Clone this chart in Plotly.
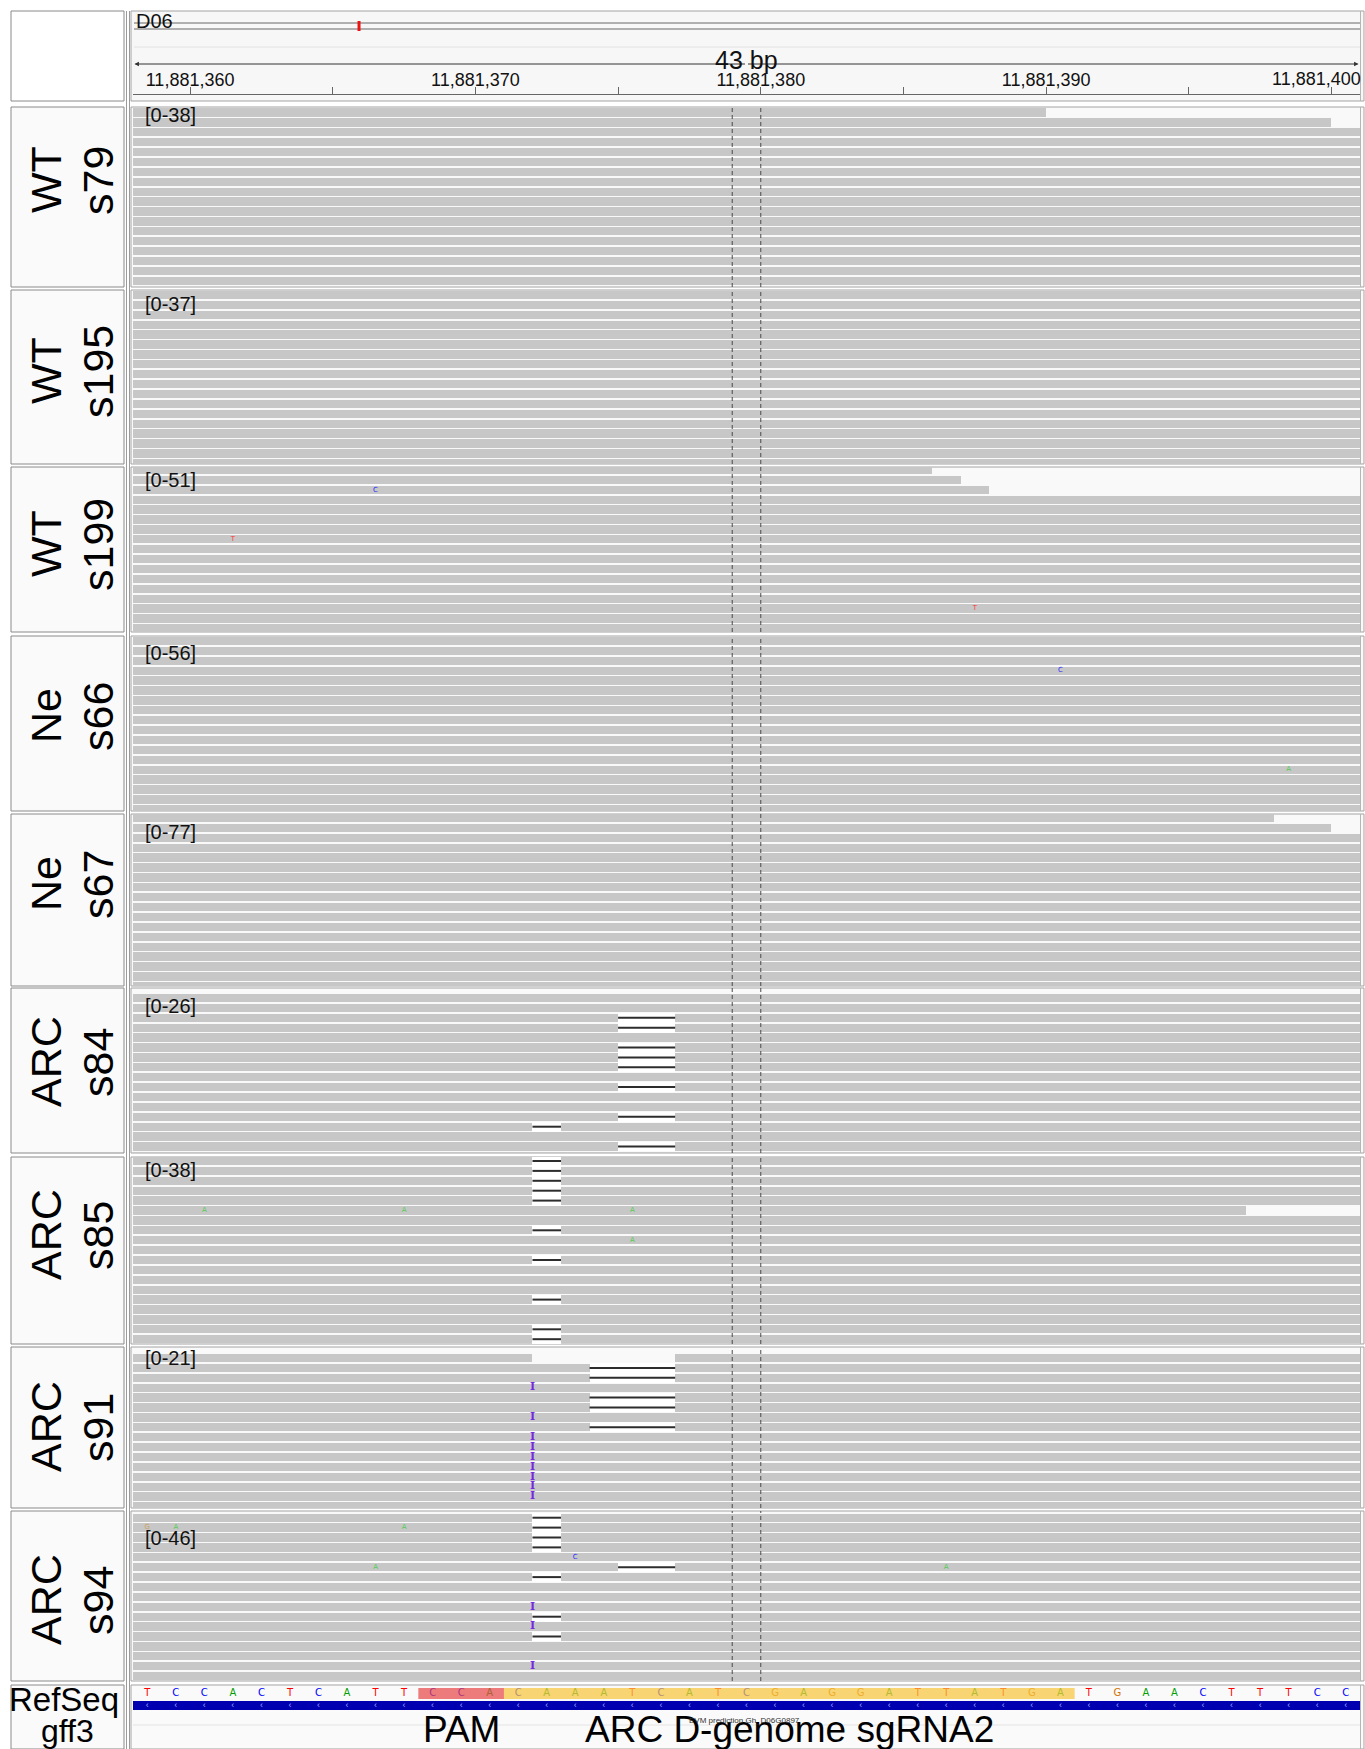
import math
import plotly.graph_objects as go

# ---------------------------------------------------------------------------
# Locus and reference
# ---------------------------------------------------------------------------
CHROM = "D06"
CHROM_LENGTH = 64_500_000
VIEW_START = 11881358          # left edge of the window (base boundary)
VIEW_END = 11881401            # right edge of the window
CENTER_BASE = 11881379         # base outlined by the dashed centre guides
RULER_TICKS = list(range(11881360, 11881401, 5))

REF_SEQ = "TCCACTCATTCCACAAATCATCGAGGATTATGATGAACTTTCC"

# ---------------------------------------------------------------------------
# Alignment panels
# ---------------------------------------------------------------------------
SAMPLE_GROUP = ["WT", "WT", "WT", "Ne", "Ne", "ARC", "ARC", "ARC", "ARC"]
SAMPLE_ID = ["s79", "s195", "s199", "s66", "s67", "s84", "s85", "s91", "s94"]
DATA_RANGE = ["[0-38]", "[0-37]", "[0-51]", "[0-56]", "[0-77]",
              "[0-26]", "[0-38]", "[0-21]", "[0-46]"]

# stretches of a row not covered by any read (panel, row, start, end)
GAP_PANEL = [0, 0, 2, 2, 2, 4, 4, 6, 7]
GAP_ROW = [0, 1, 0, 1, 2, 0, 1, 5, 0]
GAP_START = [11881390, 11881400, 11881386, 11881387, 11881388,
             11881398, 11881400, 11881397, 11881372]
GAP_END = [11881403, 11881403, 11881403, 11881403, 11881403,
           11881403, 11881403, 11881403, 11881377]

# deletions (panel, row, start, end)
DEL_PANEL = [5, 5, 5, 5, 5, 5, 5, 5, 5,
             6, 6, 6, 6, 6, 6, 6, 6, 6, 6,
             7, 7, 7, 7, 7,
             8, 8, 8, 8, 8, 8, 8, 8]
DEL_ROW = [2, 3, 5, 6, 7, 9, 12, 15, 13,
           0, 1, 2, 3, 4, 7, 10, 14, 17, 18,
           1, 2, 4, 5, 7,
           0, 1, 2, 3, 6, 10, 12, 5]
DEL_START = [11881375] * 8 + [11881372] + [11881372] * 10 + [11881374] * 5 \
    + [11881372] * 7 + [11881375]
DEL_END = [11881377] * 8 + [11881373] + [11881373] * 10 + [11881377] * 5 \
    + [11881373] * 7 + [11881377]

# insertions (panel, row, position of the boundary)
INS_PANEL = [7, 7, 7, 7, 7, 7, 7, 7, 7, 8, 8, 8]
INS_ROW = [3, 6, 8, 9, 10, 11, 12, 13, 14, 9, 11, 15]
INS_POS = [11881372] * 12

# mismatched bases (panel, row, base position, base)
MM_PANEL = [2, 2, 2, 3, 3, 6, 6, 6, 6, 8, 8, 8, 8, 8, 8]
MM_ROW = [2, 7, 14, 3, 13, 5, 5, 5, 8, 1, 1, 1, 4, 5, 5]
MM_POS = [11881366, 11881361, 11881387, 11881390, 11881398,
          11881360, 11881367, 11881375, 11881375,
          11881358, 11881359, 11881367, 11881373, 11881366, 11881386]
MM_BASE = ["C", "T", "T", "C", "A", "A", "A", "A", "A",
           "G", "A", "A", "C", "A", "A"]

# annotation features
FEATURE_NAME = ["PAM", "ARC D-genome sgRNA2"]
FEATURE_START = [11881368, 11881371]
FEATURE_END = [11881371, 11881391]
FEATURE_FILL = ["rgba(233,74,74,0.72)", "rgba(246,197,62,0.72)"]
GENE_NAME = "EVM prediction Gh_D06G0897"

# ---------------------------------------------------------------------------
# Page geometry (pixels)
# ---------------------------------------------------------------------------
W, H = 1365, 1749
LABEL_X0, LABEL_X1 = 11, 124
DATA_X0, DATA_X1 = 133, 1360
FRAME_X0, FRAME_X1 = 131, 1364
PANEL_TOP = [107, 290, 467, 636, 814, 988, 1157, 1347, 1511]
PANEL_BOTTOM = [287, 464, 632, 811, 986, 1153, 1344, 1508, 1681]
ROW0_OFFSET = [5.5, 5, 3, 5, 4, 10, 4, 11, 6.7]
RANGE_OFFSET = [8, 14, 13, 17, 18, 18, 13, 11, 27]
NAME_CENTER = [180, 371, 544, 716, 884, 1062, 1235, 1427, 1600]
ROW_PITCH = 9.9
READ_H = 8.3
TRACK_TOP, TRACK_BOTTOM = 1685, 1749
SEQ_BAND = (1688, 1699)
GENE_BAND = (1701, 1710)

FONT = "Liberation Sans, Arial, sans-serif"
READ_COLOR = "#c7c7c7"
BASE_COLOR = {"A": "#00a000", "C": "#0000ff", "G": "#d17105", "T": "#ff0000"}
MM_COLOR = {"A": "#55cc55", "C": "#2a2aff", "G": "#c9a060", "T": "#ff3535"}


def py(px):
    """page pixel row -> paper y"""
    return 1 - px / H


def pxx(px):
    return px / W


fig = go.Figure()
shapes = []
annotations = []
axes = {}

# ---------------------------------------------------------------------------
# Frames: header, panels, sequence/feature track
# ---------------------------------------------------------------------------
def frame(top, bottom, data_fill, label_fill="#fafafa"):
    shapes.append(dict(type="rect", xref="paper", yref="paper",
                       x0=pxx(LABEL_X0), x1=pxx(LABEL_X1), y0=py(bottom), y1=py(top),
                       fillcolor=label_fill, line=dict(color="#8a8a8a", width=1),
                       layer="below"))
    shapes.append(dict(type="rect", xref="paper", yref="paper",
                       x0=pxx(FRAME_X0), x1=pxx(FRAME_X1), y0=py(bottom), y1=py(top),
                       fillcolor=data_fill, line=dict(color="#a3a3a3", width=1),
                       layer="below"))
    shapes.append(dict(type="line", xref="paper", yref="paper",
                       x0=pxx(DATA_X1 + 0.5), x1=pxx(DATA_X1 + 0.5),
                       y0=py(bottom), y1=py(top),
                       line=dict(color="#b5b5b5", width=1), layer="below"))


frame(11, 101, "#f7f7f7", "#ffffff")
for k in range(9):
    frame(PANEL_TOP[k], PANEL_BOTTOM[k], "#f9f9f9")
frame(TRACK_TOP, TRACK_BOTTOM, "#fafafa")

# double divider between name column and data
for xv in (126.5, 129.5):
    shapes.append(dict(type="line", xref="paper", yref="paper",
                       x0=pxx(xv), x1=pxx(xv), y0=py(H), y1=py(11),
                       line=dict(color="#9a9a9a", width=1), layer="below"))

# ---------------------------------------------------------------------------
# Header: chromosome ideogram, span arrow and ruler
# ---------------------------------------------------------------------------
for yv, col in ((23, "#666666"), (29, "#666666"), (47, "#e2e2e2")):
    shapes.append(dict(type="line", xref="paper", yref="paper",
                       x0=pxx(DATA_X0 + 1), x1=pxx(DATA_X1), y0=py(yv), y1=py(yv),
                       line=dict(color=col, width=1), layer="below"))
locus_frac = CENTER_BASE / CHROM_LENGTH
locus_px = DATA_X0 + locus_frac * (DATA_X1 - DATA_X0)
shapes.append(dict(type="rect", xref="paper", yref="paper",
                   x0=pxx(locus_px - 1.5), x1=pxx(locus_px + 1.5), y0=py(31), y1=py(21),
                   fillcolor="#ee1111", line=dict(width=0)))
annotations.append(dict(xref="paper", yref="paper", x=pxx(DATA_X0 + 1), y=py(21),
                        xanchor="left", yanchor="middle", showarrow=False,
                        text=CHROM, font=dict(family=FONT, size=20, color="#111")))

mid = (VIEW_START + VIEW_END) / 2
for head in (VIEW_START + 0.05, VIEW_END - 0.05):
    annotations.append(dict(xref="x", yref="paper", x=head, y=py(64),
                            axref="x", ayref="pixel", ax=mid, ay=0, text="",
                            showarrow=True, arrowhead=2, arrowsize=0.9,
                            arrowwidth=1, arrowcolor="#333"))
annotations.append(dict(xref="x", yref="paper", x=mid, y=py(60),
                        xanchor="center", yanchor="middle", showarrow=False,
                        text=f"{VIEW_END - VIEW_START} bp",
                        font=dict(family=FONT, size=25, color="#111")))

tick_text = [f"{t:,}" if (t % 10 == 0 and t != RULER_TICKS[-1]) else "" for t in RULER_TICKS]
annotations.append(dict(xref="paper", yref="paper", x=pxx(DATA_X1 + 3), y=py(79),
                        xanchor="right", yanchor="middle", showarrow=False,
                        text=f"{RULER_TICKS[-1]:,}",
                        font=dict(family=FONT, size=18, color="#111")))

# ---------------------------------------------------------------------------
# Alignment panels
# ---------------------------------------------------------------------------
def subtract(segs, cut):
    out = []
    cs, ce = cut
    for s, e in segs:
        if ce <= s or cs >= e:
            out.append((s, e))
            continue
        if cs > s:
            out.append((s, cs))
        if ce < e:
            out.append((ce, e))
    return out


for k in range(9):
    yid = f"y{k + 2}"
    top, bot = PANEL_TOP[k], PANEL_BOTTOM[k]
    off = ROW0_OFFSET[k]
    hpx = bot - top
    n_rows = int(math.ceil((hpx - off) / ROW_PITCH + 0.5))
    axes[f"yaxis{k + 2}"] = dict(domain=[py(bot), py(top)],
                                 range=[(hpx - off) / ROW_PITCH, -off / ROW_PITCH],
                                 visible=False, fixedrange=True, anchor="x")

    cuts = {}
    for p, r, s, e in zip(GAP_PANEL, GAP_ROW, GAP_START, GAP_END):
        if p == k:
            cuts.setdefault(r, []).append((s, e))
    dels = [(r, s, e) for p, r, s, e in zip(DEL_PANEL, DEL_ROW, DEL_START, DEL_END) if p == k]
    for r, s, e in dels:
        cuts.setdefault(r, []).append((s, e))

    ys, bases, lens = [], [], []
    for r in range(n_rows):
        segs = [(VIEW_START - 3, VIEW_END + 3)]
        for c in cuts.get(r, []):
            segs = subtract(segs, c)
        for s, e in segs:
            ys.append(r)
            bases.append(s)
            lens.append(e - s)

    if dels:
        fig.add_trace(go.Bar(orientation="h", y=[d[0] for d in dels],
                             base=[d[1] for d in dels], x=[d[2] - d[1] for d in dels],
                             width=1.0, marker=dict(color="#ffffff", line=dict(width=0)),
                             xaxis="x", yaxis=yid, hoverinfo="skip"))
    fig.add_trace(go.Bar(orientation="h", y=ys, base=bases, x=lens,
                         width=READ_H / ROW_PITCH,
                         marker=dict(color=READ_COLOR, line=dict(width=0)),
                         xaxis="x", yaxis=yid, hoverinfo="skip"))
    if dels:
        lx, ly = [], []
        for r, s, e in dels:
            lx += [s, e, None]
            ly += [r, r, None]
        fig.add_trace(go.Scatter(x=lx, y=ly, mode="lines",
                                 line=dict(color="#2d2d2d", width=2),
                                 xaxis="x", yaxis=yid, hoverinfo="skip"))

    ins = [(r, pos) for p, r, pos in zip(INS_PANEL, INS_ROW, INS_POS) if p == k]
    if ins:
        fig.add_trace(go.Scatter(x=[i[1] for i in ins], y=[i[0] for i in ins],
                                 mode="text", text=["<b>I</b>"] * len(ins),
                                 textposition="middle center",
                                 textfont=dict(family="DejaVu Serif", size=11,
                                               color="#7428e0"),
                                 xaxis="x", yaxis=yid, hoverinfo="skip"))

    mms = [(r, pos, b) for p, r, pos, b in zip(MM_PANEL, MM_ROW, MM_POS, MM_BASE) if p == k]
    if mms:
        fig.add_trace(go.Scatter(x=[m[1] + 0.5 for m in mms], y=[m[0] for m in mms],
                                 mode="text", text=[m[2] for m in mms],
                                 textposition="middle center",
                                 textfont=dict(family="DejaVu Sans", size=7,
                                               color=[MM_COLOR[m[2]] for m in mms]),
                                 xaxis="x", yaxis=yid, hoverinfo="skip"))

    # dashed guides around the centre base
    for xv in (CENTER_BASE, CENTER_BASE + 1):
        shapes.append(dict(type="line", xref="x", yref=f"{yid} domain",
                           x0=xv, x1=xv, y0=0, y1=1, layer="above",
                           line=dict(color="#4a4a4a", width=1, dash="4px,3px")))

    annotations.append(dict(xref="paper", yref="paper", x=pxx(143), y=py(top + RANGE_OFFSET[k]),
                            xanchor="left", yanchor="middle", showarrow=False,
                            text=DATA_RANGE[k], font=dict(family=FONT, size=20, color="#111")))
    annotations.append(dict(xref="paper", yref="paper", x=pxx(46), y=py(NAME_CENTER[k]),
                            xanchor="center", yanchor="middle", showarrow=False,
                            textangle=-90, text=SAMPLE_GROUP[k],
                            font=dict(family=FONT, size=43, color="#000")))
    annotations.append(dict(xref="paper", yref="paper", x=pxx(98), y=py(NAME_CENTER[k]),
                            xanchor="center", yanchor="middle", showarrow=False,
                            textangle=-90, text=SAMPLE_ID[k],
                            font=dict(family=FONT, size=43, color="#000")))

# ---------------------------------------------------------------------------
# Reference sequence and feature track
# ---------------------------------------------------------------------------
axes["yaxis11"] = dict(domain=[py(TRACK_BOTTOM), py(TRACK_TOP)],
                       range=[TRACK_BOTTOM, TRACK_TOP], visible=False,
                       fixedrange=True, anchor="x")
seq_x = [VIEW_START + i + 0.5 for i in range(len(REF_SEQ))]
seq_mid = sum(SEQ_BAND) / 2
fig.add_trace(go.Scatter(x=seq_x, y=[seq_mid] * len(REF_SEQ), mode="text",
                         text=list(REF_SEQ), textposition="middle center",
                         textfont=dict(family="DejaVu Sans", size=10,
                                       color=[BASE_COLOR[b] for b in REF_SEQ]),
                         xaxis="x", yaxis="y11", hoverinfo="skip"))
for s, e, fill in zip(FEATURE_START, FEATURE_END, FEATURE_FILL):
    shapes.append(dict(type="rect", xref="x", yref="y11", x0=s, x1=e,
                       y0=SEQ_BAND[0], y1=SEQ_BAND[1], fillcolor=fill,
                       line=dict(width=0), layer="above"))
shapes.append(dict(type="rect", xref="x", yref="y11", x0=VIEW_START - 1, x1=VIEW_END + 1,
                   y0=GENE_BAND[0], y1=GENE_BAND[1], fillcolor="#0000b0",
                   line=dict(width=0), layer="below"))
shapes.append(dict(type="line", xref="paper", yref="paper",
                   x0=pxx(DATA_X0), x1=pxx(DATA_X1), y0=py(1725), y1=py(1725),
                   line=dict(color="#e4e4e4", width=1), layer="below"))
gene_mid = sum(GENE_BAND) / 2
fig.add_trace(go.Scatter(x=seq_x, y=[gene_mid] * len(seq_x), mode="text",
                         text=["\u2039"] * len(seq_x), textposition="middle center",
                         textfont=dict(family=FONT, size=9, color="#9fa8ff"),
                         xaxis="x", yaxis="y11", hoverinfo="skip"))
for name, s, e in zip(FEATURE_NAME, FEATURE_START, FEATURE_END):
    annotations.append(dict(xref="x", yref="y11", x=(s + e) / 2, y=1729,
                            xanchor="center", yanchor="middle", showarrow=False,
                            text=name, font=dict(family=FONT, size=37, color="#000")))
annotations.append(dict(xref="paper", yref="y11", x=pxx(745), y=1720,
                        xanchor="center", yanchor="middle", showarrow=False,
                        text=GENE_NAME, font=dict(family=FONT, size=8, color="#333")))
annotations.append(dict(xref="paper", yref="paper", x=pxx(64), y=py(1699),
                        xanchor="center", yanchor="middle", showarrow=False,
                        text="RefSeq", font=dict(family=FONT, size=33, color="#000")))
annotations.append(dict(xref="paper", yref="paper", x=pxx(67), y=py(1731),
                        xanchor="center", yanchor="middle", showarrow=False,
                        text="gff3", font=dict(family=FONT, size=32, color="#000")))

# ---------------------------------------------------------------------------
# Layout
# ---------------------------------------------------------------------------
fig.update_layout(
    width=W, height=H,
    margin=dict(l=0, r=0, t=0, b=0),
    paper_bgcolor="#ffffff",
    plot_bgcolor="rgba(0,0,0,0)",
    showlegend=False,
    barmode="overlay",
    bargap=0,
    shapes=shapes,
    annotations=annotations,
    xaxis=dict(domain=[pxx(DATA_X0), pxx(DATA_X1)], range=[VIEW_START, VIEW_END],
               anchor="free", position=py(94), side="top",
               showline=True, linecolor="#666", linewidth=1,
               ticks="outside", ticklen=7, tickcolor="#666", tickwidth=1,
               tickvals=RULER_TICKS, ticktext=tick_text, ticklabelstandoff=-6,
               tickfont=dict(family=FONT, size=18, color="#111"),
               showgrid=False, zeroline=False, fixedrange=True),
    **axes,
)

fig.write_html("out.html", include_plotlyjs=True, config={"displayModeBar": False})
